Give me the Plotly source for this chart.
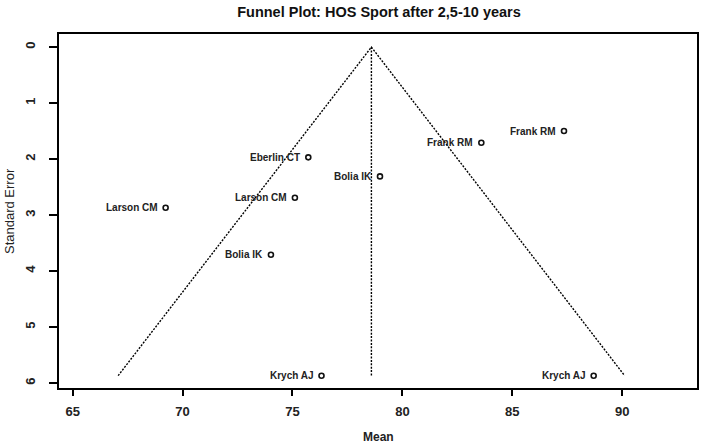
import plotly.graph_objects as go

# ---- data ----
studies = ["Frank RM", "Frank RM", "Bolia IK", "Eberlin CT", "Larson CM",
           "Larson CM", "Bolia IK", "Krych AJ", "Krych AJ"]
means = [87.35, 83.59, 78.98, 75.72, 69.23, 75.11, 74.02, 76.32, 88.70]
std_err = [1.50, 1.71, 2.31, 1.97, 2.87, 2.69, 3.71, 5.87, 5.87]

funnel_x = [67.07, 78.59, 90.11]
funnel_y = [5.87, 0.0, 5.87]
center_x = [78.59, 78.59]
center_y = [0.0, 5.87]

x_ticks = [65, 70, 75, 80, 85, 90]
y_ticks = [0, 1, 2, 3, 4, 5, 6]

FONT = "Liberation Sans, Arial, sans-serif"

fig = go.Figure()

fig.add_trace(go.Scatter(x=funnel_x, y=funnel_y, mode="lines",
                         line=dict(color="black", width=1.4, dash="2px,1.4px"),
                         hoverinfo="skip", showlegend=False))
fig.add_trace(go.Scatter(x=center_x, y=center_y, mode="lines",
                         line=dict(color="black", width=1.4, dash="2px,1.4px"),
                         hoverinfo="skip", showlegend=False))
fig.add_trace(go.Scatter(x=means, y=std_err, mode="markers",
                         marker=dict(symbol="circle-open", size=5, color="#111",
                                     line=dict(width=1.6, color="#111")),
                         showlegend=False))

for s, m, e in zip(studies, means, std_err):
    fig.add_annotation(x=m, y=e, text=s, showarrow=False, xanchor="right",
                       yanchor="middle", xshift=-6,
                       font=dict(family=FONT, size=10, color="#222", weight="bold"))

fig.add_annotation(xref="paper", yref="paper", x=0.5, y=0, yshift=-49,
                   text="Mean", showarrow=False, yanchor="middle",
                   font=dict(family=FONT, size=12, color="#222", weight="bold"))
fig.add_annotation(xref="paper", yref="paper", x=0, y=0.5, xshift=-50,
                   text="Standard Error", showarrow=False, textangle=-90,
                   xanchor="center",
                   font=dict(family=FONT, size=13, color="#222"))

fig.update_layout(
    width=702, height=447,
    margin=dict(l=59, r=3, t=34, b=59),
    paper_bgcolor="white", plot_bgcolor="white",
    title=dict(text="Funnel Plot: HOS Sport after 2,5-10 years",
               x=(59 + 699) / 2 / 702, xanchor="center",
               y=1 - 12 / 447, yanchor="middle", yref="container",
               font=dict(family=FONT, size=14.5, color="#111", weight="bold")),
    xaxis=dict(range=[64.38, 93.40], tickvals=x_ticks,
               ticktext=[str(v) for v in x_ticks],
               showgrid=False, zeroline=False, showline=True, mirror=True,
               linecolor="black", linewidth=2, ticks="outside", ticklen=6,
               tickwidth=1.5, tickcolor="black", ticklabelstandoff=4,
               tickfont=dict(family=FONT, size=13, color="#222", weight="bold")),
    yaxis=dict(range=[6.09, -0.234], tickvals=y_ticks,
               ticktext=[str(v) for v in y_ticks],
               showgrid=False, zeroline=False, showline=True, mirror=True,
               linecolor="black", linewidth=2, ticks="outside", ticklen=8,
               tickwidth=1.5, tickcolor="black", tickangle=-90,
               ticklabelstandoff=9,
               tickfont=dict(family=FONT, size=13, color="#222", weight="bold")),
)

fig.write_html("out.html")
